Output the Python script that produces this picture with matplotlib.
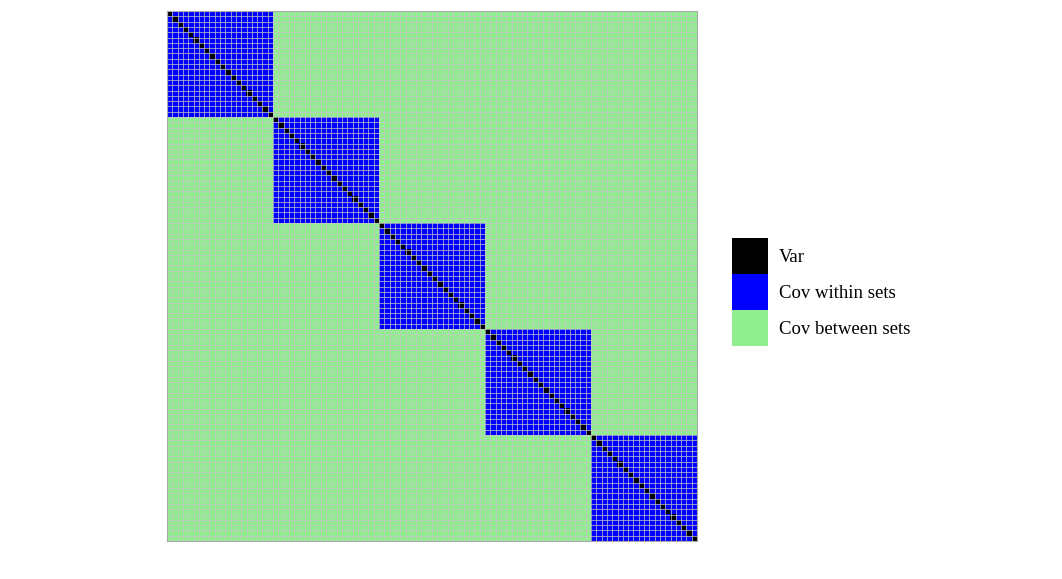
import numpy as np
import matplotlib
matplotlib.use("Agg")
import matplotlib.pyplot as plt
from matplotlib.colors import ListedColormap
from matplotlib.patches import Rectangle

n_sets = 5
set_size = 20
categories = ["Var", "Cov within sets", "Cov between sets"]
colors = ["black", "blue", "lightgreen"]

n = n_sets * set_size
groups = np.repeat(np.arange(n_sets), set_size)
# codes: 0 = Var, 1 = within, 2 = between
mat = np.where(groups[:, None] == groups[None, :], 1, 2)
np.fill_diagonal(mat, 0)

fig = plt.figure(figsize=(10.62, 5.79), dpi=100)
ax = fig.add_axes([167/1062, 1 - 541/579, 530/1062, 530/579])
cmap = ListedColormap(colors)
ax.imshow(mat, cmap=cmap, vmin=-0.5, vmax=2.5, extent=(0, n, n, 0),
          interpolation="nearest", aspect="auto")
pos = np.arange(1, n)
ax.vlines(pos, 0, n, colors="#c4c4c4", linewidth=0.6, alpha=0.85)
ax.hlines(pos, 0, n, colors="#c4c4c4", linewidth=0.6, alpha=0.85)
ax.set_xlim(0, n)
ax.set_ylim(n, 0)
ax.set_xticks([])
ax.set_yticks([])
for s in ax.spines.values():
    s.set_color("#aaaaaa")
    s.set_linewidth(0.8)

# legend
W, H = 1062, 579
key = 36
x0, y0 = 732, 238
for i, (lab, c) in enumerate(zip(categories, colors)):
    yt = y0 + i * key
    fig.patches.append(Rectangle((x0 / W, 1 - (yt + key) / H), key / W, key / H,
                                 transform=fig.transFigure, facecolor=c, edgecolor="none"))
    fig.text(779 / W, 1 - (yt + key / 2 + 2) / H, lab, family="Liberation Serif",
             fontsize=13.5, va="center", ha="left")

fig.savefig("out.png", dpi=100)
